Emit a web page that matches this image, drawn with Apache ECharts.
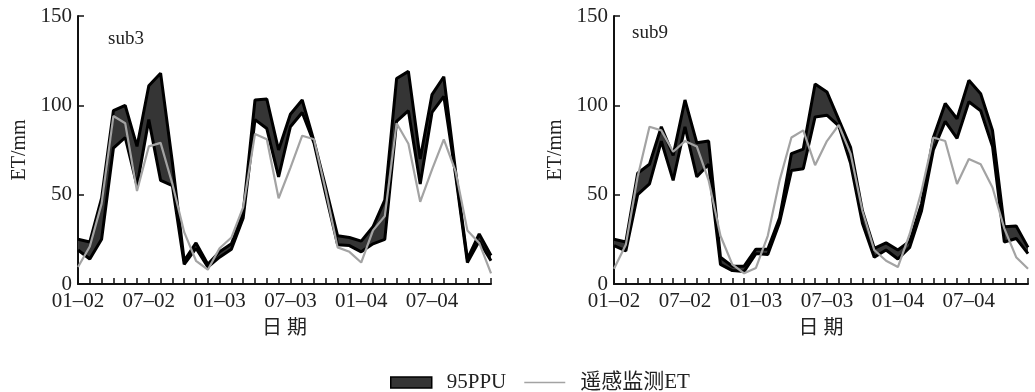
<!DOCTYPE html>
<html><head><meta charset="utf-8">
<script src="https://cdn.jsdelivr.net/npm/echarts@6/dist/echarts.min.js"></script>
<style>html,body{margin:0;padding:0;background:#fff}#c{width:1035px;height:392px}</style>
</head><body><div id="c"></div>
<script>
const categories = [
  '01–02','02–02','03–02','04–02','05–02','06–02','07–02','08–02','09–02','10–02','11–02','12–02',
  '01–03','02–03','03–03','04–03','05–03','06–03','07–03','08–03','09–03','10–03','11–03','12–03',
  '01–04','02–04','03–04','04–04','05–04','06–04','07–04','08–04','09–04','10–04','11–04','12–04'
];
const yTicks = [0, 50, 100, 150];
const panelNames = ['sub3', 'sub9'];
const legendNames = ['95PPU', '遥感监测ET'];

const sub3Upper = [25,23.5,48,97,100,77,111,118,68,13,23,11, 18,22.5,40,103,103.5,75,95,103,80,54,27,26, 24,32,47,115,119,70,106,116,63,14,28,16];
const sub3Lower = [19,14,25,76,82,55,92,58,55,11,20,9.5, 15,19.5,37,92,87,60,88,96,79,50,22,21.5, 18,22.5,25,91,97,56,96,105,61,12,24,13];
const sub3RS    = [9.5,21,45,94,90,52,77,79,56,29,13,8, 20,26,43,84,81,48,65,83,81,52,20.5,18, 12,30,38,90,78.5,46,64,81,63,30,23,6];

const sub9Upper = [25,23.5,62,67,88,72,103,79,80,15,10,10, 19.5,19.5,37,73,75.5,112,107.5,92,76.5,41,20,23, 19,24,45,82,101,92.5,114,106.5,86,32,32.5,20.5];
const sub9Lower = [21.5,18.5,50,56,80,58,88,60,67,11,7.5,7, 17,16.5,34.5,63.5,64.5,93.5,94.5,88.5,67.5,34,15,19, 14,20.5,41,75,91,81.5,102,97,77,23.5,25.5,17];
const sub9RS    = [8.5,22,60,88,86,74,80,77,58,27,11,6, 9,27,58,82,86,66.5,80,89,73,41,19,13, 9.5,28,52,82,80,56,70,67,54,31,15,8.5];

const FONT = "'Liberation Serif', 'Noto Sans CJK SC', serif";
const TXT = '#222';

function diff(u, l) { return u.map((v, i) => +(v - l[i]).toFixed(2)); }

const grids = [
  { left: 78, top: 16, width: 413, height: 268 },
  { left: 614, top: 16, width: 414, height: 268 }
];

const xAxes = grids.map((g, gi) => ({
  type: 'category', gridIndex: gi, data: categories, boundaryGap: false,
  name: '日 期', nameLocation: 'middle', nameGap: 35,
  nameTextStyle: { fontFamily: FONT, fontSize: 20, color: TXT },
  axisLine: { lineStyle: { color: '#111', width: 2 } },
  axisTick: { inside: true, length: 6, interval: 0, lineStyle: { color: '#111', width: 1.5 } },
  axisLabel: { interval: 5, margin: 7, fontFamily: FONT, fontSize: 21, color: TXT },
  splitLine: { show: false }
}));

const yAxes = grids.map((g, gi) => ({
  type: 'value', gridIndex: gi, min: yTicks[0], max: yTicks[yTicks.length - 1], interval: 50,
  name: 'ET/mm', nameLocation: 'middle', nameGap: 48, nameRotate: 90,
  nameTextStyle: { fontFamily: FONT, fontSize: 20, color: TXT },
  axisLine: { show: true, lineStyle: { color: '#111', width: 2 } },
  axisTick: { show: true, inside: true, length: 6, lineStyle: { color: '#111', width: 1.5 } },
  axisLabel: { margin: 6, fontFamily: FONT, fontSize: 21, color: TXT },
  splitLine: { show: false }
}));

function panelSeries(gi, up, lo, rs) {
  const st = 'band' + gi;
  return [
    { name: 'lower' + gi, type: 'line', xAxisIndex: gi, yAxisIndex: gi, stack: st, data: lo,
      symbol: 'none', z: 3, lineStyle: { color: '#000', width: 3 }, itemStyle: { color: '#000' } },
    { name: legendNames[0], type: 'line', xAxisIndex: gi, yAxisIndex: gi, stack: st, data: diff(up, lo),
      symbol: 'none', z: 2, lineStyle: { color: '#000', width: 3 },
      itemStyle: { color: '#333' }, areaStyle: { color: '#353535', opacity: 1 } },
    { name: legendNames[1], type: 'line', xAxisIndex: gi, yAxisIndex: gi, data: rs,
      symbol: 'none', z: 4, lineStyle: { color: '#a3a3a3', width: 2.2 }, itemStyle: { color: '#a3a3a3' } }
  ];
}

const option = {
  backgroundColor: '#fff',
  animation: false,
  title: [
    { text: panelNames[0], left: 103, top: 25, textStyle: { fontFamily: FONT, fontSize: 19, fontWeight: 'normal', color: TXT } },
    { text: panelNames[1], left: 627, top: 19, textStyle: { fontFamily: FONT, fontSize: 19, fontWeight: 'normal', color: TXT } }
  ],
  legend: {
    left: 385, top: 367, itemWidth: 41, itemHeight: 11, itemGap: 18,
    textStyle: { fontFamily: FONT, fontSize: 21, color: TXT, padding: [0, 0, 0, 10] },
    data: [
      { name: legendNames[0], icon: 'rect', itemStyle: { color: '#353535', borderColor: '#000', borderWidth: 1.5 } },
      { name: legendNames[1], icon: 'path://M0,0L40,0L40,1.6L0,1.6Z', itemStyle: { color: '#a3a3a3' } }
    ]
  },
  grid: grids,
  xAxis: xAxes,
  yAxis: yAxes,
  series: [].concat(
    panelSeries(0, sub3Upper, sub3Lower, sub3RS),
    panelSeries(1, sub9Upper, sub9Lower, sub9RS)
  )
};

const chart = echarts.init(document.getElementById('c'), null, { renderer: 'canvas' });
chart.setOption(option);
</script>
</body></html>
